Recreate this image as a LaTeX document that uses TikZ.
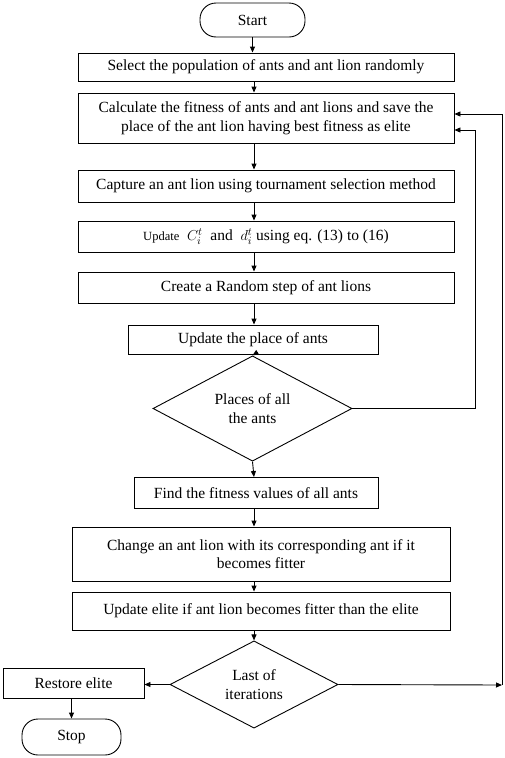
\documentclass[tikz,border=0pt]{standalone}
\usepackage{fontspec}
\setmainfont{Liberation Serif}
\usetikzlibrary{shapes.geometric,arrows.meta}
\begin{document}
\begin{tikzpicture}[x=1pt,y=-1pt,
  every node/.style={font=\fontsize{15.5}{18.5}\selectfont},
  box/.style={draw,line width=0.9pt,rectangle,align=center,inner sep=2pt},
  term/.style={draw,line width=0.9pt,rectangle,rounded corners=16pt,align=center},
  dec/.style={draw,line width=0.9pt,diamond,align=center,inner sep=0pt},
  arr/.style={line width=0.9pt,-{Triangle[length=6pt,width=5pt]}},
  ln/.style={line width=0.9pt}]
\useasboundingbox (0,0) rectangle (505,758);
\node[term,minimum width=105pt,minimum height=34pt] (start) at (252.5,20) {Start};
\node[box,minimum width=376pt,minimum height=28pt] (b1) at (266,67) {Select the population of ants and ant lion randomly};
\node[box,minimum width=376pt,minimum height=50pt] (b2) at (266,118) {Calculate the fitness of ants and ant lions and save the\\place of the ant lion having best fitness as elite};
\node[box,minimum width=376pt,minimum height=32pt] (b3) at (266,186) {Capture an ant lion using tournament selection method};
\node[box,minimum width=376pt,minimum height=31pt] (b4) at (266,236.5) {{\fontsize{12.5}{15}\selectfont Update}\ \ $C_i^t$\ \ and\ \ $d_i^t$ using eq. (13) to (16)};
\node[box,minimum width=376pt,minimum height=31pt] (b5) at (266,287.5) {Create a Random step of ant lions};
\node[box,minimum width=250pt,minimum height=29pt] (b6) at (253,339.5) {Update the place of ants};
\node[dec,minimum width=199pt,minimum height=81pt] (d1) at (252.5,408.5) {Places of all\\the ants};
\node[box,minimum width=244pt,minimum height=31pt] (b7) at (256,493) {Find the fitness values of all ants};
\node[box,minimum width=378pt,minimum height=54pt] (b8) at (261,554) {Change an ant lion with its corresponding ant if it\\becomes fitter};
\node[box,minimum width=378pt,minimum height=38pt] (b9) at (261,611) {Update elite if ant lion becomes fitter than the elite};
\node[dec,minimum width=168pt,minimum height=83pt] (d2) at (254,684.5) {Last of\\iterations};
\node[box,minimum width=141pt,minimum height=30pt] (rest) at (73.5,683) {Restore elite};
\node[term,minimum width=99pt,minimum height=36pt] (stop) at (71.5,737) {Stop};
\coordinate (ax) at (254,0);
\coordinate (r1) at (475,0);
\coordinate (r2) at (502,685);
\draw[arr] (start.south) -- (start.south |- b1.north);
\draw[arr] (b1.south -| ax) -- (b2.north -| ax);
\draw[arr] (b2.south -| ax) -- (b3.north -| ax);
\draw[arr] (b3.south -| ax) -- (b4.north -| ax);
\draw[arr] (b4.south -| ax) -- (b5.north -| ax);
\draw[arr] (b5.south -| ax) -- (b6.north -| ax);
\draw[arr] (b6.south -| ax) -- (d1.north);
\draw[arr] (d1.south) -- (b7.north -| ax);
\draw[arr] (b7.south -| ax) -- (b8.north -| ax);
\draw[arr] (b8.south -| ax) -- (b9.north -| ax);
\draw[arr] (b9.south -| ax) -- (d2.north);
\draw[arr] (d1.east) -- (d1.east -| r1) -- ([yshift=-12pt]b2.east -| r1) -- ([yshift=-12pt]b2.east);
\draw[arr] (d2.east) -- (r2);
\draw[arr] (r2) -- ([yshift=4pt]b2.east -| r2) -- ([yshift=4pt]b2.east);
\draw[arr] (d2.west) -- (d2.west -| rest.east);
\draw[arr] (rest.south -| stop.north) -- (stop.north);
\end{tikzpicture}
\end{document}
